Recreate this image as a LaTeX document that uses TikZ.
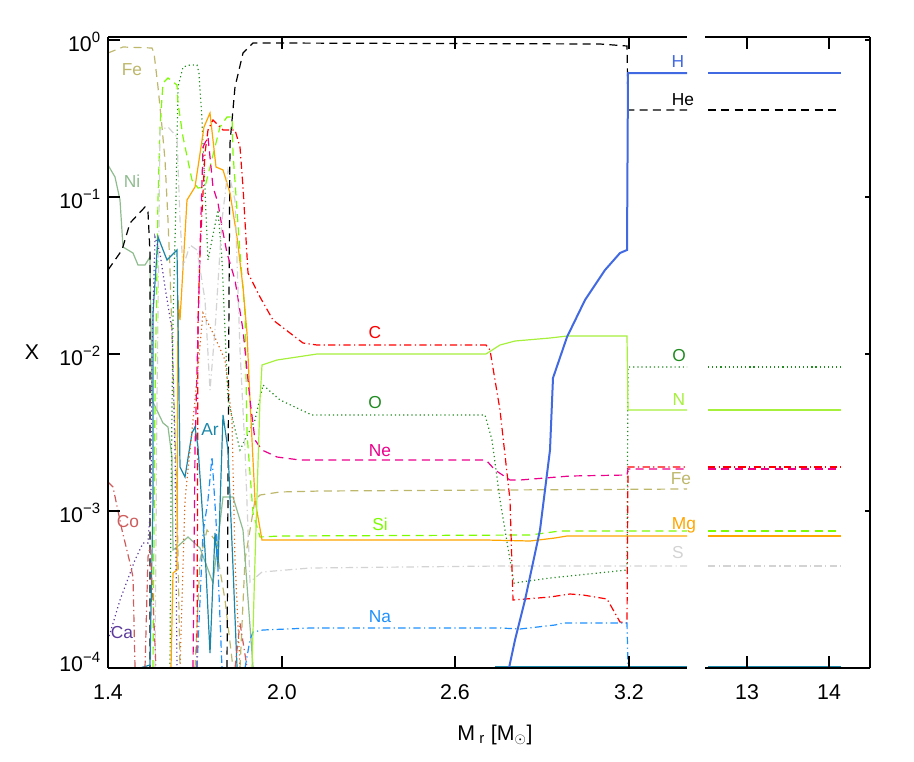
\documentclass[tikz,border=0pt]{standalone}
\usepackage{fontspec}
\setmainfont{Liberation Sans}
\begin{document}
\begin{tikzpicture}[x=0.75pt,y=-0.75pt,
  ln/.style={line width=0.9pt},
  dsh/.style={ln,dash pattern=on 6pt off 4pt},
  dd/.style={ln,dash pattern=on 5.5pt off 2.5pt on 0.9pt off 2.5pt},
  dt/.style={ln,dash pattern=on 0.9pt off 2.2pt},
  lab/.style={font=\fontsize{13}{13}\selectfont,inner sep=0pt},
  tl/.style={font=\fontsize{16}{16}\selectfont,inner sep=0pt},
  ax/.style={line width=0.9pt,black}]
\definecolor{cN}{HTML}{A6F03C}\definecolor{cO}{HTML}{228B22}\definecolor{cFe}{HTML}{BDB76B}
\definecolor{cSi}{HTML}{7CFC00}\definecolor{cMg}{HTML}{FFA500}\definecolor{cS}{HTML}{D3D3D3}
\definecolor{cNa}{HTML}{1E90FF}\definecolor{cH}{HTML}{4169E1}\definecolor{cNi}{HTML}{8FBC8F}
\definecolor{cAr}{HTML}{1C86A8}\definecolor{cCo}{HTML}{CD5C5C}\definecolor{cCa}{HTML}{5B3A9B}
\definecolor{cCr}{HTML}{D2691E}
\useasboundingbox (0,0) rectangle (914,761);
% ---- left messy region
\draw[dsh,cFe] (108,53)--(123,47)--(152,48)--(154,53)--(158,87)--(162,127)--(165,160)--(168,220)--(170,270)--(174,400)--(177,500)--(180,668);
\draw[dsh,cFe] (195,668)--(200,560)--(207,530)--(215,540)--(225,600)--(233,668);
\draw[dsh,cFe] (240,668)--(245,560)--(255,500)--(260,495)--(280,492)--(320,491)--(500,490)--(687,489);
\draw[ln,cNi] (108,165)--(115,177)--(120,200)--(123,247)--(133,253)--(138,265)--(145,265)--(150,257)--(152,400)--(163,423)--(168,427)--(172,457)--(173,550)--(177,547)--(188,537)--(200,548)--(213,583)--(223,497)--(233,497)--(243,530)--(253,667);
\draw[dsh,black] (108,270)--(122,250)--(130,223)--(145,207)--(148,212)--(150,253)--(150,668);
\draw[dsh,black] (227,668)--(228,490)--(229,300)--(230,143)--(235,87)--(243,53)--(253,43)--(273,43)--(600,44)--(627,46)--(628,110)--(687,110);
\draw[dsh,black] (708,110)--(841,110);
\draw[dt,cO] (170,668)--(171,500)--(173,320)--(176,200)--(178,87)--(183,67)--(190,65)--(197,65)--(199,73)--(202,120)--(205,190)--(208,260)--(213,235)--(218,210)--(222,260)--(228,400)--(240,450)--(255,420)--(263,385)--(280,400)--(312,415)--(485,415)--(492,440)--(500,500)--(510,560)--(514,583)--(550,578)--(627,570)--(628,367)--(687,367);
\draw[dt,cO] (708,367)--(841,367);
\draw[dsh,cSi] (153,668)--(155,400)--(158,200)--(160,127)--(163,83)--(168,78)--(177,85)--(178,103)--(183,137)--(192,180)--(198,188)--(205,187)--(220,127)--(227,117)--(232,117)--(233,153)--(240,253)--(245,313)--(247,433)--(253,513)--(260,537)--(280,536)--(530,535)--(560,531)--(687,531);
\draw[dsh,cSi] (708,531)--(841,531);
\draw[ln,cMg] (171,668)--(173,573)--(177,570)--(178,300)--(180,320)--(187,200)--(195,187)--(204,127)--(210,113)--(216,167)--(223,170)--(230,193)--(237,237)--(243,287)--(247,333)--(250,400)--(255,500)--(262,540)--(300,540)--(486,540)--(530,541)--(555,538)--(567,536)--(687,536);
\draw[ln,cMg] (708,536)--(841,536);
\draw[dd,red] (197,668)--(198,320)--(200,253)--(205,153)--(208,130)--(213,120)--(223,130)--(235,130)--(240,147)--(243,187)--(248,273)--(260,297)--(273,320)--(303,343)--(317,345)--(486,345)--(490,350)--(500,410)--(510,500)--(513,600)--(550,597)--(570,594)--(583,595)--(607,599)--(620,622)--(627,623)--(628,467)--(687,467);
\draw[dd,red] (708,467)--(841,467);
\draw[dsh,magenta] (193,668)--(195,450)--(200,250)--(203,147)--(208,137)--(213,187)--(218,203)--(222,227)--(227,253)--(235,280)--(243,330)--(250,400)--(255,440)--(262,450)--(277,457)--(300,460)--(486,460)--(495,470)--(510,480)--(520,480)--(570,476)--(627,475)--(628,469)--(687,469);
\draw[dsh,magenta] (708,469)--(841,469);
\draw[dd,cS] (155,668)--(157,400)--(160,130)--(168,127)--(177,137)--(180,220)--(183,267)--(190,245)--(197,250)--(205,300)--(210,390)--(215,330)--(222,220)--(228,170)--(235,200)--(240,350)--(245,450)--(250,582)--(262,572)--(310,568)--(500,566)--(687,566);
\draw[dd,cS] (708,566)--(841,566);
\draw[ln,cAr] (140,668)--(150,665)--(153,500)--(153,313)--(158,237)--(167,260)--(177,250)--(178,320)--(180,467)--(185,477)--(192,433)--(195,427)--(198,447)--(205,550)--(210,653)--(215,533)--(218,567)--(223,415)--(228,450)--(233,567)--(237,667);
\draw[ln,cAr] (495,667)--(687,667) (708,667)--(841,667);
\draw[dt,cCa] (108,640)--(120,600)--(135,560)--(143,543)--(148,543)--(151,500)--(152,350)--(155,237)--(160,253)--(165,287)--(172,330)--(175,450)--(177,668);
\draw[dd,cCo] (108,482)--(113,487)--(122,530)--(130,563)--(133,577)--(135,667);
\draw[dd,cCo] (145,668)--(148,557)--(150,547)--(153,600)--(156,668);
\draw[dd,cCo] (235,668)--(240,623)--(247,667);
\draw[dt,cCr] (180,668)--(185,500)--(195,400)--(203,313)--(213,333)--(225,360)--(232,420)--(235,560)--(240,668);
\draw[dd,cNa] (197,668)--(203,533)--(208,500)--(212,457)--(216,520)--(222,668);
\draw[dd,cNa] (245,668)--(250,640)--(253,632)--(263,630)--(310,628)--(500,628)--(520,629)--(555,625)--(563,623)--(627,623)--(628,668);
\draw[ln,cN] (252,668)--(255,560)--(260,400)--(262,365)--(277,360)--(317,354)--(486,354)--(500,345)--(515,341)--(550,338)--(567,336)--(627,336)--(628,410)--(687,410);
\draw[ln,cN] (708,410)--(841,410);
\draw[cH,line width=1.5pt] (509,668)--(515,640)--(525,600)--(540,530)--(550,450)--(553,378)--(567,337)--(585,300)--(605,270)--(620,253)--(627,250)--(628,73)--(687,73);
\draw[cH,line width=1.5pt] (708,73)--(841,73);
% ---- axes
\draw[ax] (108,37)--(687,37) (705,37)--(870,37) (108,668)--(687,668) (705,668)--(870,668) (108,37)--(108,668) (870,37)--(870,668);
\foreach \x in {282,455,629,747,829}{\draw[ax] (\x,668)--(\x,656) (\x,37)--(\x,49);}
\foreach \y in {40,197,354,511}{\draw[ax] (108,\y)--(120,\y) (870,\y)--(865,\y);}
\foreach \x/\t in {108/1.4,282/2.0,455/2.6,629/3.2,747/13,829/14}{\node[tl] at (\x,692) {\t};}
\node[tl,anchor=east] at (101,42) {10\textsuperscript{0}};
\node[tl,anchor=east] at (101,199) {10\textsuperscript{−1}};
\node[tl,anchor=east] at (101,356) {10\textsuperscript{−2}};
\node[tl,anchor=east] at (101,513) {10\textsuperscript{−3}};
\node[tl,anchor=east] at (101,662) {10\textsuperscript{−4}};
\node[tl] at (32,352) {X};
\node[tl] at (495,735) {M\textsubscript{ r} [M\textsubscript{$\odot$}]};
% ---- labels
\node[lab,cFe] at (132,70) {Fe};
\node[lab,cNi] at (132,181) {Ni};
\node[lab,cCo] at (128,522) {Co};
\node[lab,cCa] at (122,633) {Ca};
\node[lab,cAr] at (210,430) {Ar};
\node[lab,red] at (375,333) {C};
\node[lab,cO] at (375,403) {O};
\node[lab,magenta] at (380,451) {Ne};
\node[lab,cSi] at (380,524) {Si};
\node[lab,cNa] at (380,617) {Na};
\node[lab,cH] at (678,62) {H};
\node[lab,black] at (683,100) {He};
\node[lab,cO] at (679,356) {O};
\node[lab,cN] at (679,400) {N};
\node[lab,cFe] at (681,479) {Fe};
\node[lab,cMg] at (684,525) {Mg};
\node[lab,cS] at (678,553) {S};
\end{tikzpicture}
\end{document}
